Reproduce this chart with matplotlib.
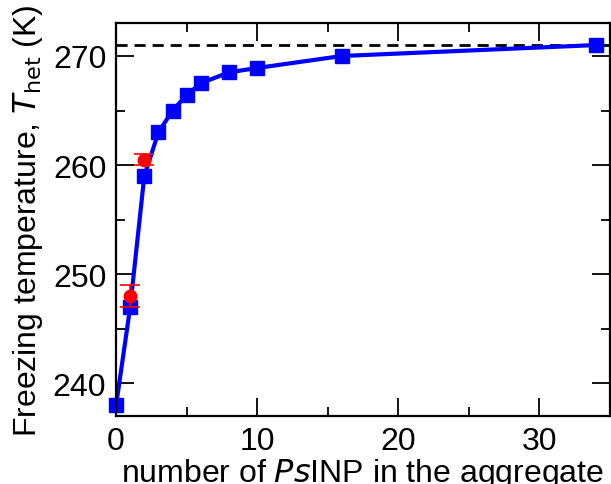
import numpy as np
import matplotlib
matplotlib.use("Agg")
import matplotlib.pyplot as plt
from matplotlib.ticker import MultipleLocator

plt.rcParams['font.family'] = ['Liberation Sans', 'DejaVu Sans']

# --- data ---
n_sim = [0, 1, 2, 3, 4, 5, 6, 8, 10, 16, 34]
t_sim = [238.0, 247.0, 259.0, 263.0, 265.0, 266.4, 267.5, 268.5, 268.9, 270.0, 271.0]

n_exp = [1, 2]
t_exp = [248.0, 260.5]
t_exp_err = [1.0, 0.5]

t_bulk = 271.0

fig = plt.figure(figsize=(6.11, 4.85), dpi=100)
ax = fig.add_axes([0.190, 0.140, 0.808, 0.810])

ax.axhline(t_bulk, color='black', lw=2, ls=(0, (4, 2.5)), zorder=1)
ax.plot(n_sim, t_sim, color='#0000ff', lw=3, marker='s', ms=9.5, zorder=2, clip_on=False)
ax.errorbar(n_exp, t_exp, yerr=t_exp_err, fmt='o', color='#ff0000', ms=9,
            elinewidth=1.2, capsize=7, capthick=1.2, zorder=3)

ax.set_xlim(0, 35)
ax.set_ylim(237, 273)
ax.xaxis.set_major_locator(MultipleLocator(10))
ax.xaxis.set_minor_locator(MultipleLocator(5))
ax.yaxis.set_major_locator(MultipleLocator(10))
ax.yaxis.set_minor_locator(MultipleLocator(5))

ax.tick_params(which='both', direction='in', top=True, right=True, labelsize=23, width=1.3)
ax.tick_params(which='major', length=13, pad=7)
ax.tick_params(which='minor', length=6.5)
for s in ax.spines.values():
    s.set_linewidth(1.6)

ax.set_xlabel(r'number of $\it{Ps}$INP in the aggregate', fontsize=23, labelpad=0)
ax.set_ylabel(r'Freezing temperature, $T_{\rm het}$ (K)', fontsize=23, labelpad=6)

fig.savefig('out.png', dpi=100)
